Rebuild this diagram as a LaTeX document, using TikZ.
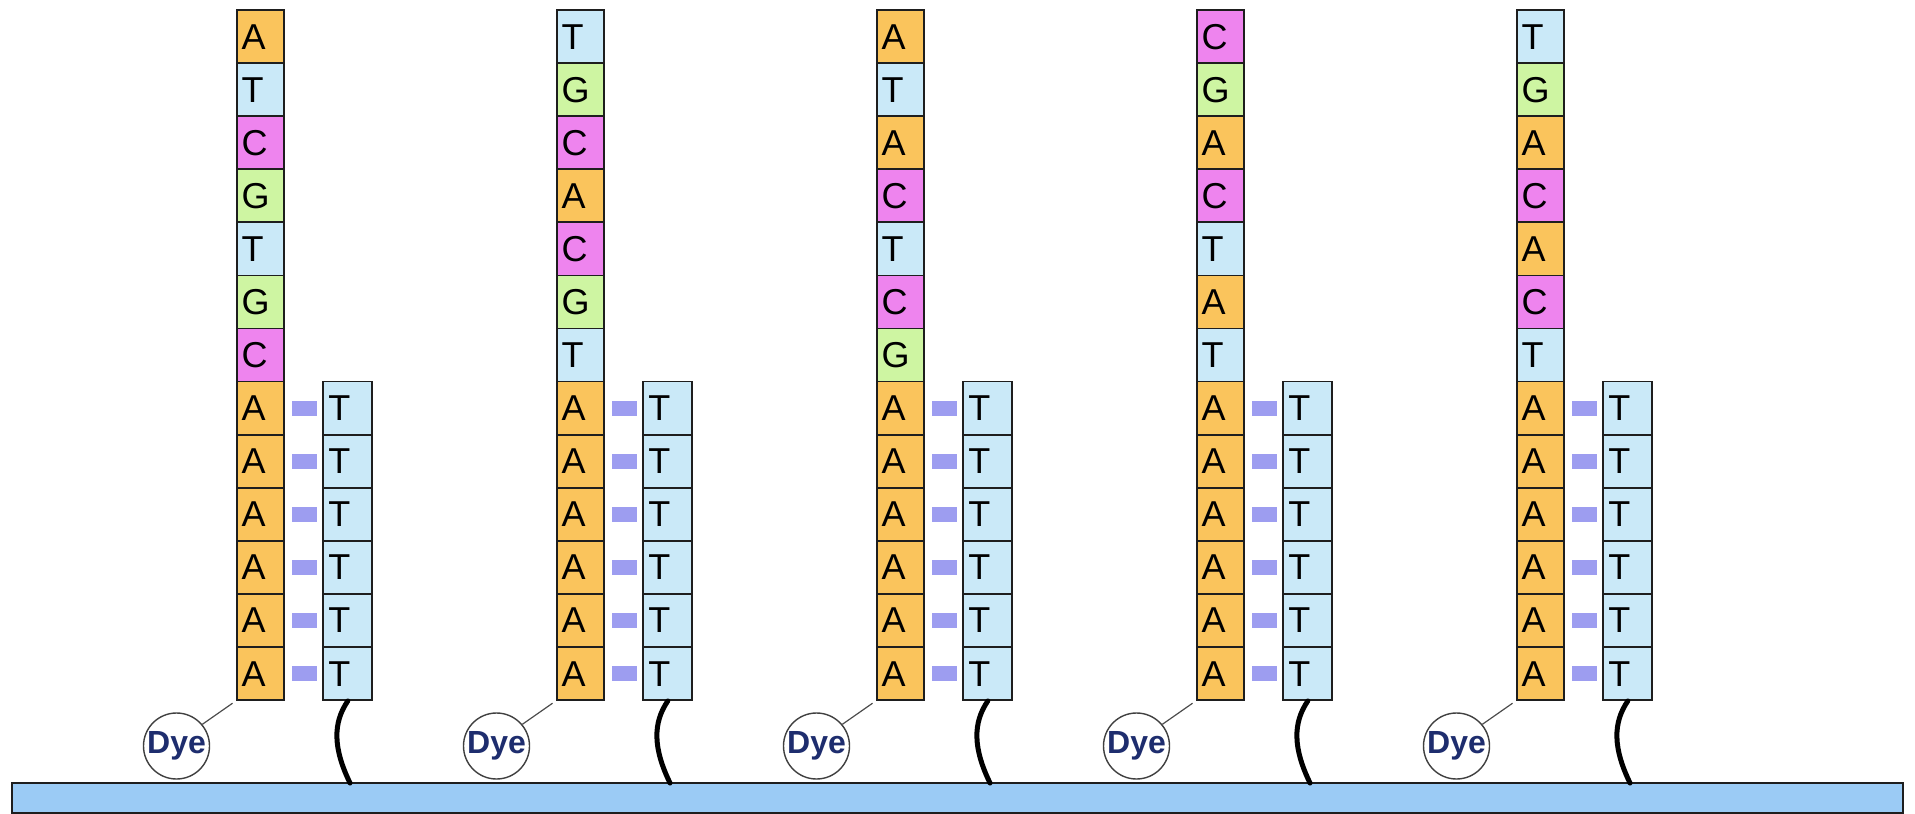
\documentclass[tikz,border=0pt]{standalone}
\usepackage{fontspec}
\setmainfont{Liberation Sans}
\definecolor{colA}{RGB}{250,196,92}
\definecolor{colT}{RGB}{202,233,248}
\definecolor{colC}{RGB}{238,132,238}
\definecolor{colG}{RGB}{206,245,162}
\definecolor{hbond}{RGB}{157,157,240}
\definecolor{barfill}{RGB}{155,203,245}
\definecolor{dyetext}{RGB}{30,45,110}
\definecolor{edge}{RGB}{30,30,30}
\tikzset{
  nt/.style={draw=edge, line width=1.8pt, minimum height=53.08pt, inner xsep=5pt, inner ysep=0pt,
    text height=25pt, text depth=0pt, align=left, font=\fontsize{36}{36}\selectfont},
  ntl/.style={nt, text width=37pt},
  ntr/.style={nt, text width=39pt},
  hb/.style={fill=hbond, minimum width=25pt, minimum height=15pt, inner sep=0pt},
  dyestyle/.style={circle, draw=black!75, line width=1.4pt, fill=white, minimum size=66pt, inner sep=0pt,
    text=dyetext, font=\fontsize{32}{32}\selectfont\bfseries},
  barstyle/.style={draw=edge, line width=2.2pt, fill=barfill, minimum width=1891pt, minimum height=30pt, inner sep=0pt},
  dyelink/.style={draw=black!70, line width=1.2pt, shorten >=4pt},
  linker/.style={draw=black, line width=5pt, line cap=round}
}
\newcommand\drawcol[2]{%
  \pgfmathsetmacro\colxl{260.2+320*#1}%
  \pgfmathsetmacro\colxr{347.8+320*#1}%
  \pgfmathsetmacro\colxh{304.3+320*#1}%
  \pgfmathsetmacro\colxd{176.5+320*#1}%
  \pgfmathsetmacro\colxa{350+320*#1}%
  \foreach \b [count=\i] in {#2} {
    \node[ntl, fill=col\b] (l#1-\i) at (\colxl, {10+53.08*(\i-0.5)}) {\b};
  }
  \foreach \i in {8,...,13} {
    \node[ntl, fill=colA] (l#1-\i) at (\colxl, {10+53.08*(\i-0.5)}) {A};
  }
  \foreach \j in {1,...,6} {
    \pgfmathsetmacro\rowy{10+53.08*(\j+6.5)}
    \node[ntr, fill=colT] (r#1-\j) at (\colxr, \rowy) {T};
    \node[hb] (h#1-\j) at (\colxh, \rowy) {};
  }
  \node[dyestyle] (dye#1) at (\colxd, 746) {Dye};
  \draw[dyelink] (dye#1.40) -- (l#1-13.south west);
  \coordinate (anc#1) at (\colxa, 783);
  \draw[linker] (r#1-6.south) .. controls +(-15,22) and +(-17,-35) .. (anc#1);
}
\begin{document}
\begin{tikzpicture}[x=1pt,y=-1pt]
\useasboundingbox (0,0) rectangle (1915,814);
\node[barstyle] (bar) at (957.35, 798) {};
\drawcol{0}{A,T,C,G,T,G,C}
\drawcol{1}{T,G,C,A,C,G,T}
\drawcol{2}{A,T,A,C,T,C,G}
\drawcol{3}{C,G,A,C,T,A,T}
\drawcol{4}{T,G,A,C,A,C,T}
\end{tikzpicture}
\end{document}
